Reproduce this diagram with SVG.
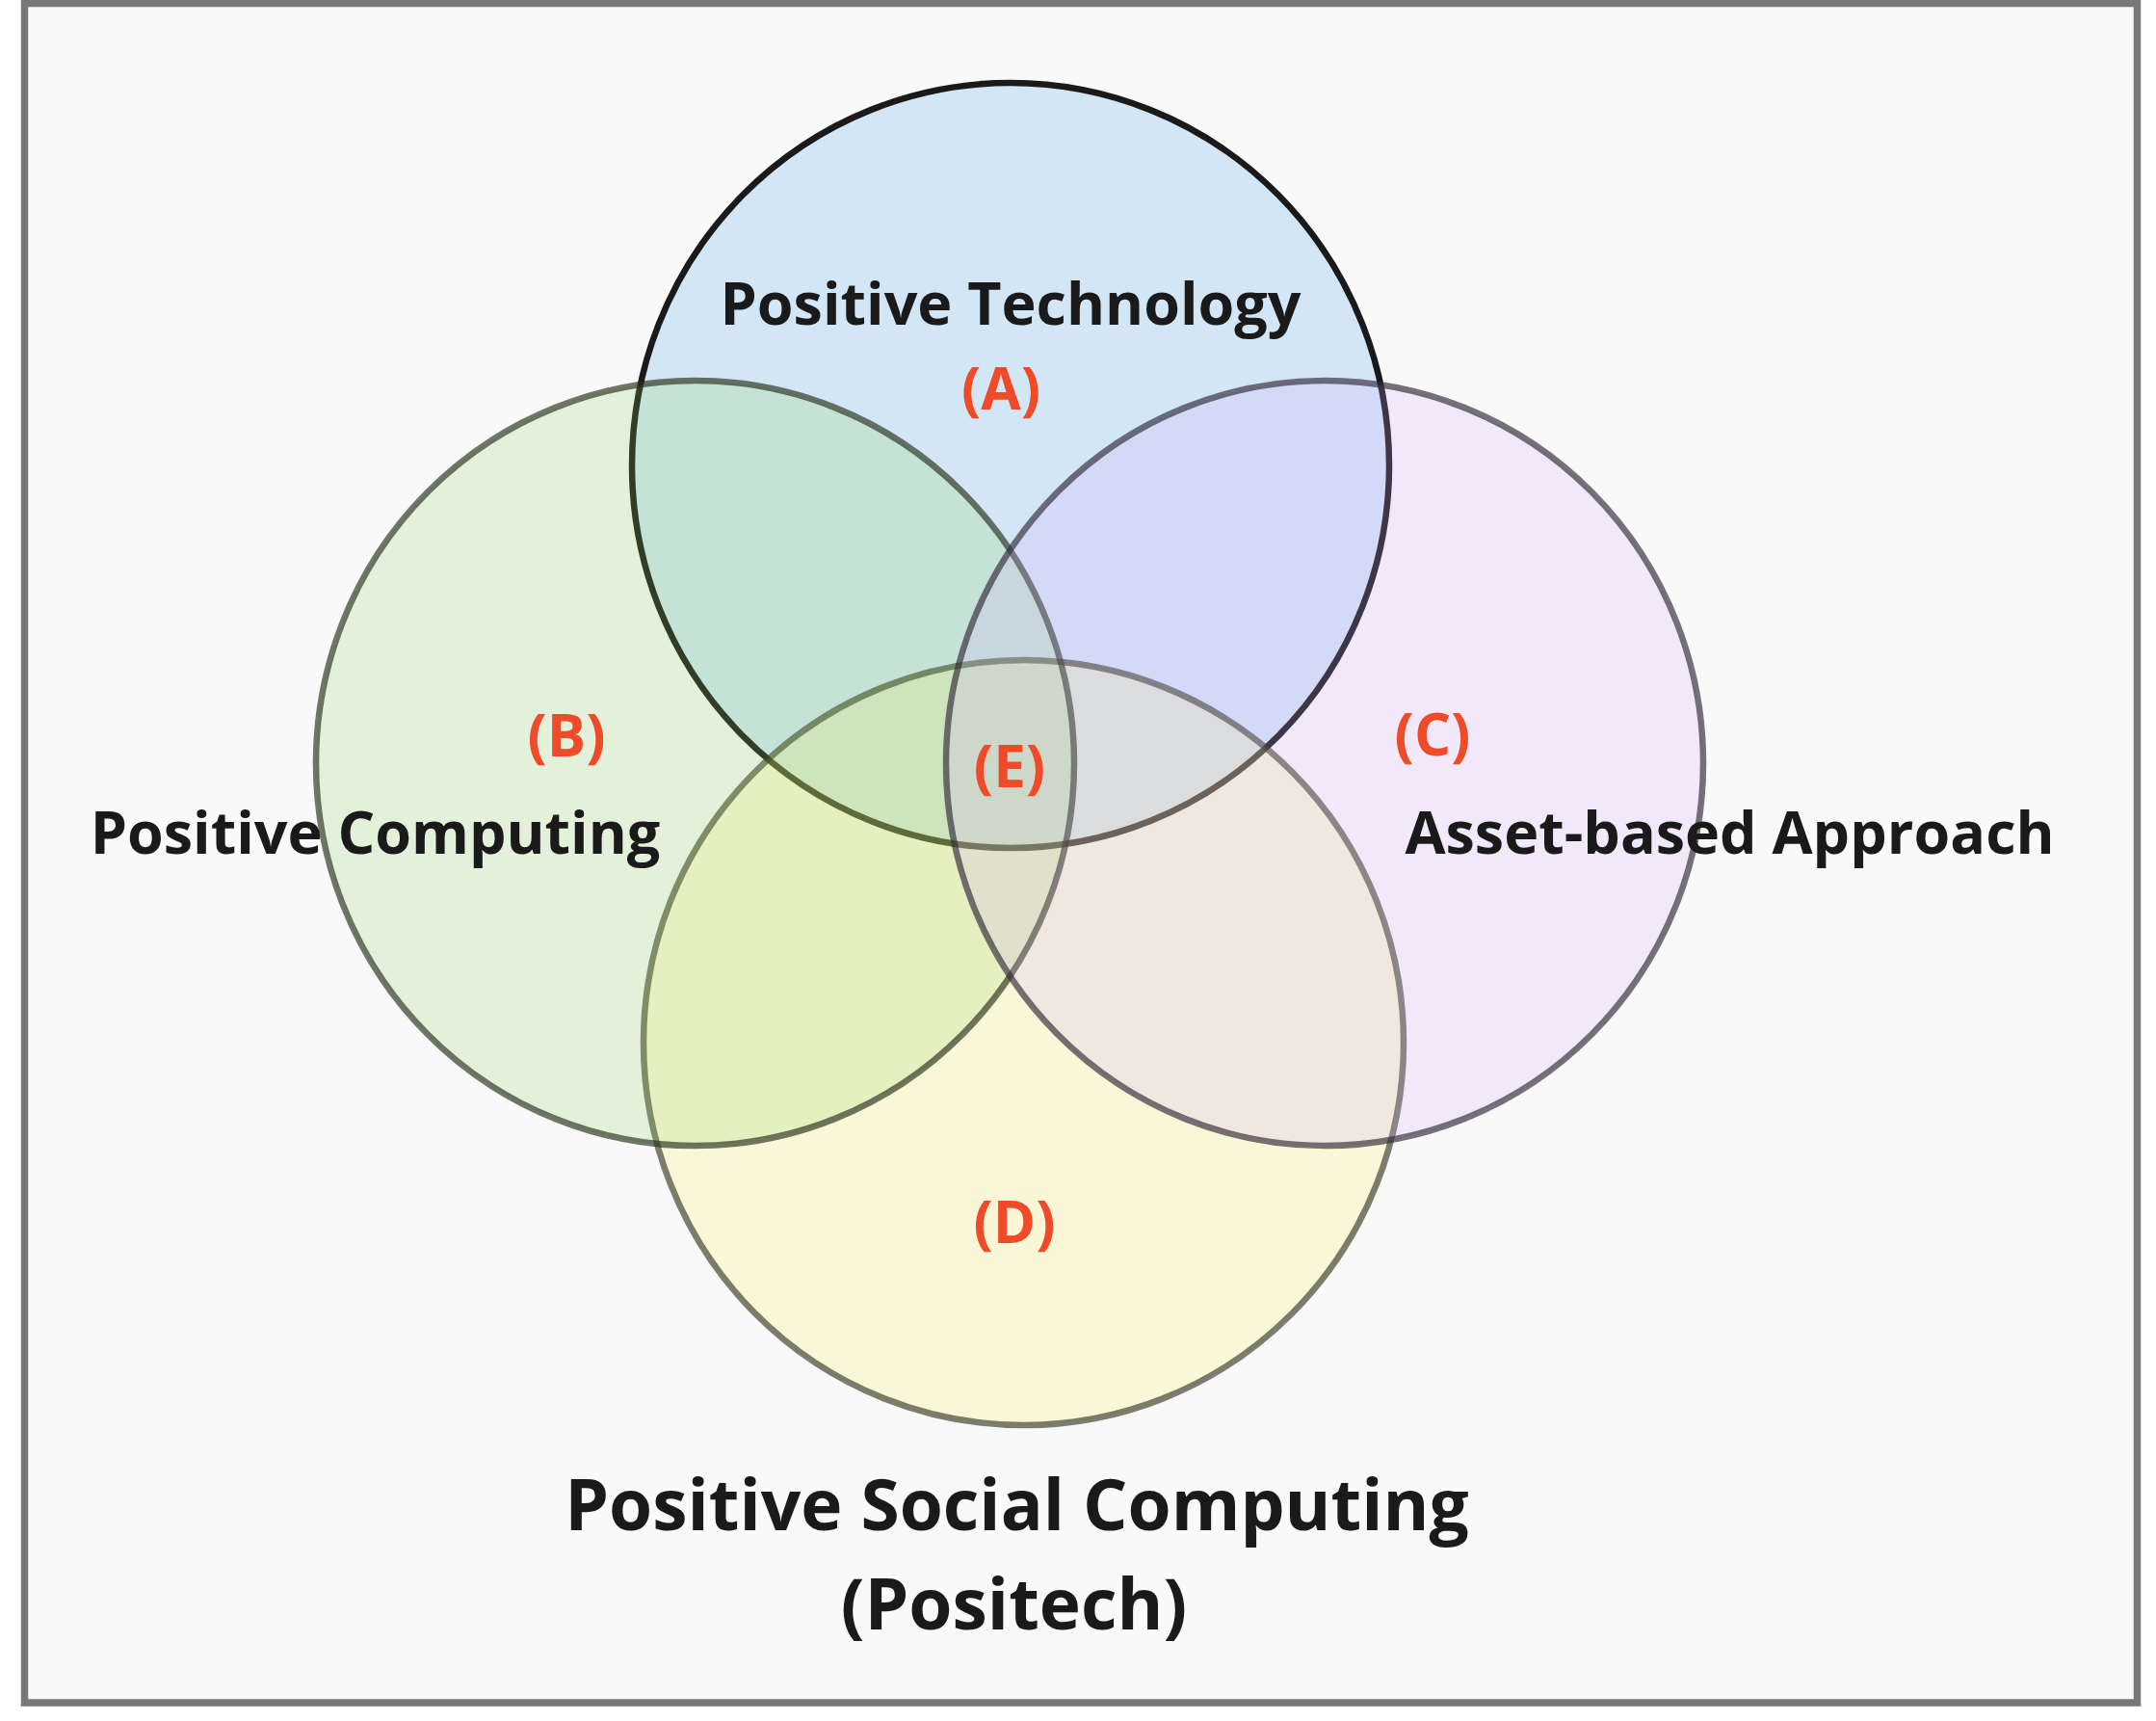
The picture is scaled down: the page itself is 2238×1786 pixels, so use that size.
<svg xmlns="http://www.w3.org/2000/svg" width="2238" height="1786" viewBox="0 0 2238 1786">
  <style>
    .ring { stroke-width: 6.5; }
    .lbl { font-family: "Open Sans", "Noto Sans", "Liberation Sans", sans-serif; font-weight: 700; font-size: 61px; fill: #1a1a1a; text-anchor: middle; }
    .tag { font-family: "Open Sans", "Noto Sans", "Liberation Sans", sans-serif; font-weight: 700; font-size: 60px; fill: #f04b28; text-anchor: middle; }
    .title { font-family: "Open Sans", "Noto Sans", "Liberation Sans", sans-serif; font-weight: 700; font-size: 73px; fill: #1a1a1a; text-anchor: middle; }
  </style>
  <rect x="0" y="0" width="2238" height="1786" fill="#ffffff"/>
  <rect id="frame" x="25.5" y="3.5" width="2193" height="1763.5" fill="#f9f9f9" stroke="#777777" stroke-width="7.5"/>

  <g id="node-A">
    <ellipse class="ring" cx="1049" cy="483" rx="393" ry="397" fill="#d2e6f5" stroke="#1a1a1a"/>
    <text class="lbl" x="1049" y="337">Positive Technology</text>
    <text class="tag" x="1039" y="425">(A)</text>
  </g>

  <g id="node-D">
    <ellipse class="ring" cx="1062.5" cy="1082" rx="394.5" ry="397" fill="#fff578" fill-opacity="0.25" stroke="#2e2e1c" stroke-opacity="0.62"/>
    <text class="tag" x="1053" y="1290">(D)</text>
  </g>

  <g id="node-B">
    <ellipse class="ring" cx="721.5" cy="792" rx="393.5" ry="397" fill="#90d15e" fill-opacity="0.2" stroke="#28301c" stroke-opacity="0.66"/>
    <text class="lbl" x="389.5" y="886">Positive Computing</text>
    <text class="tag" x="588" y="785">(B)</text>
  </g>

  <g id="node-C">
    <ellipse class="ring" cx="1375" cy="792" rx="393" ry="397" fill="#d1a9fe" fill-opacity="0.2" stroke="#302a38" stroke-opacity="0.66"/>
    <text class="lbl" x="1795.5" y="886">Asset-based Approach</text>
    <text class="tag" x="1487" y="784">(C)</text>
  </g>

  <g id="region-E">
    <text class="tag" x="1048" y="817">(E)</text>
  </g>

  <g id="title">
    <text class="title" x="1055.5" y="1588">Positive Social Computing</text>
    <text class="title" x="1052.5" y="1691">(Positech)</text>
  </g>
</svg>
